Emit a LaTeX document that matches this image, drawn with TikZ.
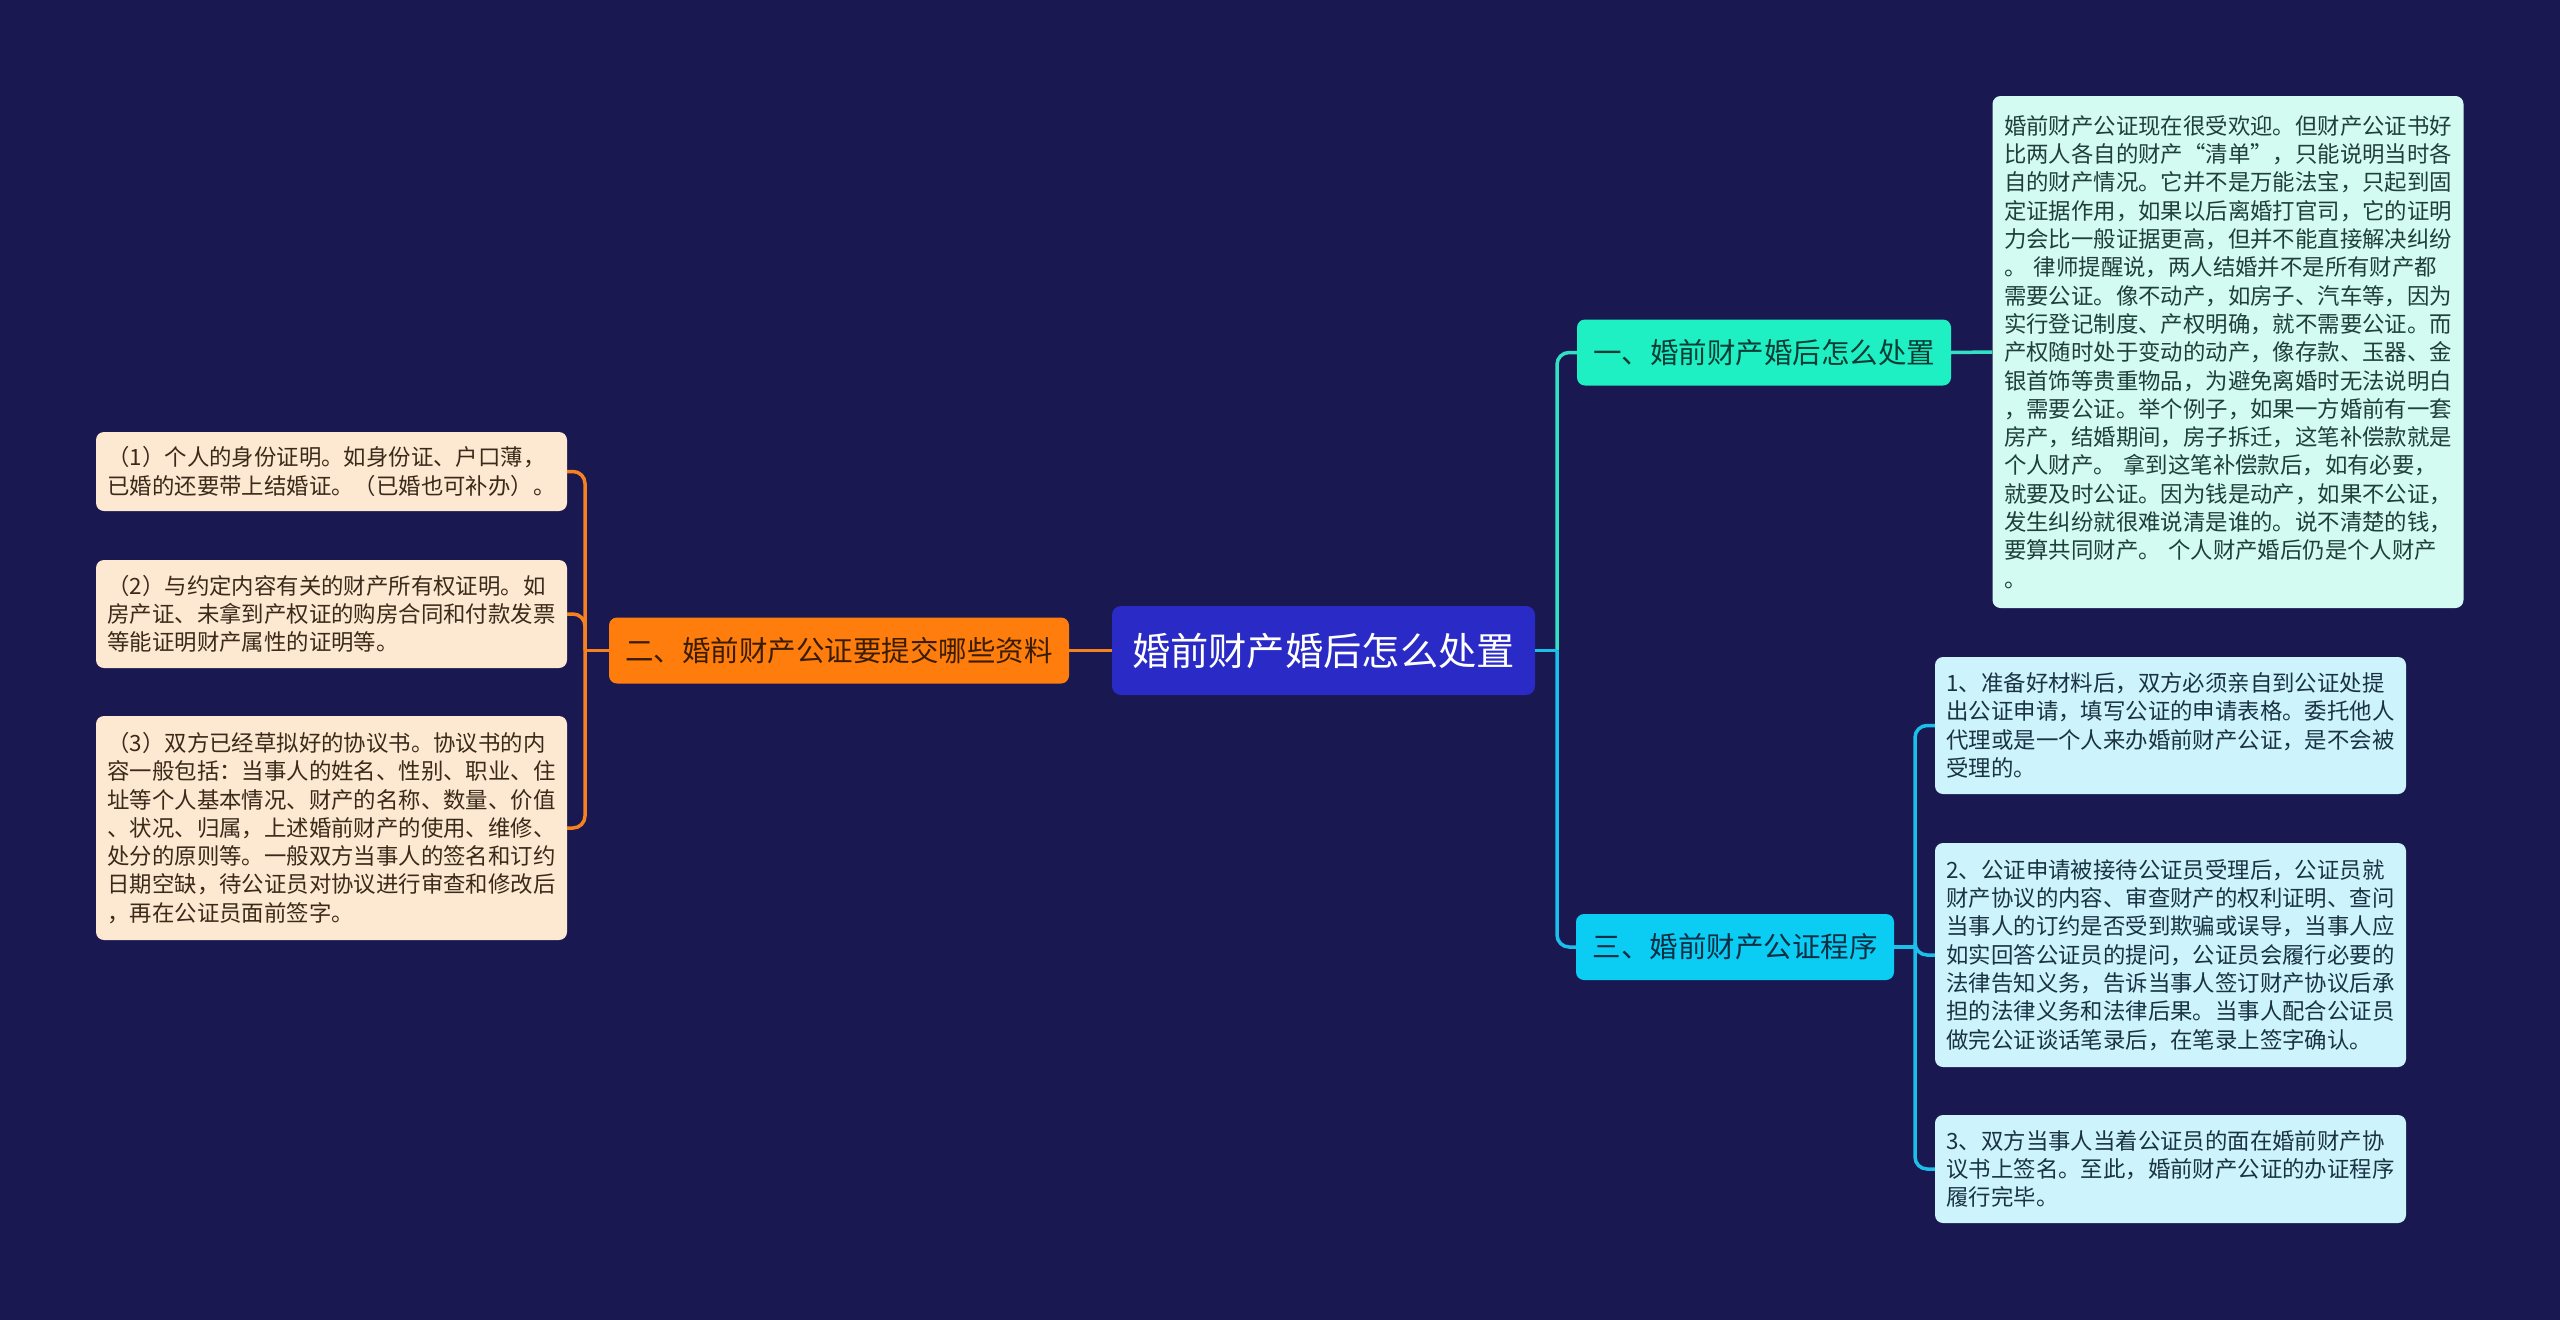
\documentclass[tikz,border=0pt]{standalone}
\usepackage{fontspec}
\setmainfont{Noto Sans CJK SC}
\definecolor{bg}{HTML}{1A1850}
\definecolor{cfill}{HTML}{2A2AC6}
\definecolor{ofill}{HTML}{FF7D0D}
\definecolor{otext}{HTML}{3A1D00}
\definecolor{lfill}{HTML}{FDE8D2}
\definecolor{ltext}{HTML}{3B2A1A}
\definecolor{oline}{HTML}{F5821F}
\definecolor{tfill}{HTML}{1EF0C4}
\definecolor{ttext}{HTML}{0B3D35}
\definecolor{bigfill}{HTML}{D4FBF1}
\definecolor{bigtext}{HTML}{1F3F3A}
\definecolor{tline}{HTML}{34E0C4}
\definecolor{bfill}{HTML}{0BCDF4}
\definecolor{btext}{HTML}{0D2F45}
\definecolor{rfill}{HTML}{CDF3FC}
\definecolor{rtext}{HTML}{1A3344}
\definecolor{bline}{HTML}{1CBFEA}
\begin{document}
\begin{tikzpicture}[x=1pt,y=-1pt,
  leaf/.style={rounded corners=8pt, inner ysep=0pt, inner xsep=11.5pt, text width=448pt, align=left,
    font=\fontsize{22.4pt}{28.3pt}\selectfont},
  branch/.style={rounded corners=8pt, inner sep=0pt, minimum height=66pt, align=center,
    font=\fontsize{28.5pt}{34pt}\selectfont},
  olink/.style={draw=oline, line width=3.5pt, rounded corners=12pt},
  tlink/.style={draw=tline, line width=3.5pt, rounded corners=12pt},
  blink/.style={draw=bline, line width=3.5pt, rounded corners=12pt}]
\fill[bg] (0,0) rectangle (2560,1320);

% central topic
\node[rounded corners=9pt, fill=cfill, text=white, minimum width=423pt, minimum height=89pt, inner sep=0pt,
  font=\fontsize{38.3pt}{44pt}\selectfont] (center) at (1323.5,650.5) {婚前财产婚后怎么处置};

% branches
\node[branch, fill=ofill, text=otext, minimum width=460pt] (orange) at (839,650.5) {二、婚前财产公证要提交哪些资料};
\node[branch, fill=tfill, text=ttext, minimum width=374pt] (teal) at (1764,352.5) {一、婚前财产婚后怎么处置};
\node[branch, fill=bfill, text=btext, minimum width=318pt] (blue) at (1735,947) {三、婚前财产公证程序};

% left leaves
\node[leaf, fill=lfill, text=ltext, minimum height=79pt] (L1) at (331.5,471.5) {（1）个人的身份证明。如身份证、户口薄，\\已婚的还要带上结婚证。（已婚也可补办）。};
\node[leaf, fill=lfill, text=ltext, minimum height=108pt] (L2) at (331.5,614) {（2）与约定内容有关的财产所有权证明。如\\房产证、未拿到产权证的购房合同和付款发票\\等能证明财产属性的证明等。};
\node[leaf, fill=lfill, text=ltext, minimum height=224pt] (L3) at (331.5,828) {（3）双方已经草拟好的协议书。协议书的内\\容一般包括：当事人的姓名、性别、职业、住\\址等个人基本情况、财产的名称、数量、价值\\、状况、归属，上述婚前财产的使用、维修、\\处分的原则等。一般双方当事人的签名和订约\\日期空缺，待公证员对协议进行审查和修改后\\，再在公证员面前签字。};

% big text box
\node[leaf, fill=bigfill, text=bigtext, minimum height=512pt] (big) at (2228,352) {婚前财产公证现在很受欢迎。但财产公证书好\\比两人各自的财产“清单”，只能说明当时各\\自的财产情况。它并不是万能法宝，只起到固\\定证据作用，如果以后离婚打官司，它的证明\\力会比一般证据更高，但并不能直接解决纠纷\\。 律师提醒说，两人结婚并不是所有财产都\\需要公证。像不动产，如房子、汽车等，因为\\实行登记制度、产权明确，就不需要公证。而\\产权随时处于变动的动产，像存款、玉器、金\\银首饰等贵重物品，为避免离婚时无法说明白\\，需要公证。举个例子，如果一方婚前有一套\\房产，结婚期间，房子拆迁，这笔补偿款就是\\个人财产。 拿到这笔补偿款后，如有必要，\\就要及时公证。因为钱是动产，如果不公证，\\发生纠纷就很难说清是谁的。说不清楚的钱，\\要算共同财产。 个人财产婚后仍是个人财产\\。};

% right leaves
\node[leaf, fill=rfill, text=rtext, minimum height=137pt] (R1) at (2170.5,725.5) {1、准备好材料后，双方必须亲自到公证处提\\出公证申请，填写公证的申请表格。委托他人\\代理或是一个人来办婚前财产公证，是不会被\\受理的。};
\node[leaf, fill=rfill, text=rtext, minimum height=224pt] (R2) at (2170.5,955) {2、公证申请被接待公证员受理后，公证员就\\财产协议的内容、审查财产的权利证明、查问\\当事人的订约是否受到欺骗或误导，当事人应\\如实回答公证员的提问，公证员会履行必要的\\法律告知义务，告诉当事人签订财产协议后承\\担的法律义务和法律后果。当事人配合公证员\\做完公证谈话笔录后，在笔录上签字确认。};
\node[leaf, fill=rfill, text=rtext, minimum height=108pt] (R3) at (2170.5,1169) {3、双方当事人当着公证员的面在婚前财产协\\议书上签名。至此，婚前财产公证的办证程序\\履行完毕。};

% trunk coordinates
\coordinate (ltrunk) at (585,650.5);
\coordinate (rtrunk) at (1557,650.5);
\coordinate (strunk) at (1915,947);

% connectors
\draw[olink] (center.west) -- (orange.east);
\draw[olink] (orange.west) -- (ltrunk);
\draw[olink] (ltrunk) |- (L1.east);
\draw[olink] (ltrunk) |- (L2.east);
\draw[olink] (ltrunk) |- (L3.east);

\draw[tlink] (rtrunk) |- (teal.west);
\draw[blink] (rtrunk) |- (blue.west);
\draw[blink] (center.east) -- (rtrunk);
\draw[tlink] (teal.east) -- (big.west);

\draw[blink] (blue.east) -- (strunk);
\draw[blink] (strunk) |- (R1.west);
\draw[blink] (strunk) |- (R2.west);
\draw[blink] (strunk) |- (R3.west);
\end{tikzpicture}
\end{document}
